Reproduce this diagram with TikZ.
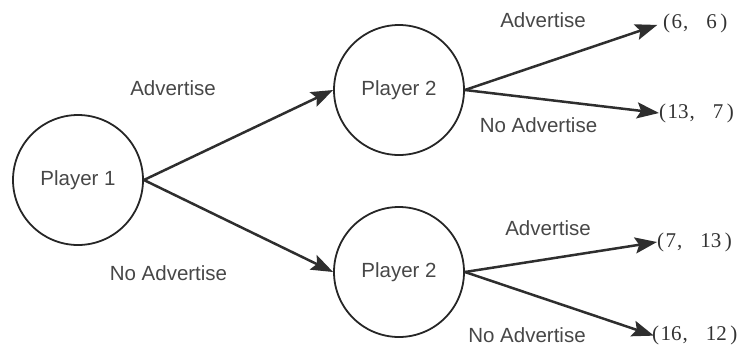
\documentclass[tikz,border=0pt]{standalone}
\usepackage{fontspec}
\setmainfont{Liberation Sans}
\newfontfamily\numfont{Liberation Serif}
\usetikzlibrary{arrows.meta}
% payoff pair, spaced out like full-width brackets and comma
\newcommand{\payoff}[2]{(\hspace{1.5pt}#1\hspace{1pt},\hspace{18pt}#2\hspace{3.5pt})}
\begin{document}
\begin{tikzpicture}[x=1pt, y=-1pt,
  player/.style={circle, draw=black!85, line width=1.8pt, minimum size=130pt,
    inner sep=0pt, font=\fontsize{20.5}{24}\selectfont, text=black!72},
  move/.style={draw=black!82, line width=2.5pt,
    -{Stealth[length=22pt, width=16pt, inset=4pt]}},
  lbl/.style={font=\fontsize{20.5}{24}\selectfont, text=black!72},
  pay/.style={anchor=west, inner sep=0pt,
    font=\numfont\fontsize{21}{24}\selectfont, text=black!80}]
  \useasboundingbox (0,0) rectangle (749,356);

  % decision nodes
  \node[player] (p1)  at (78,180)  {Player 1};
  \node[player] (p2a) at (399,90)  {Player 2};
  \node[player] (p2b) at (399,272) {Player 2};

  % outcomes
  \node[pay] (o1) at (663,23)  {\payoff{6}{6}};
  \node[pay] (o2) at (659,113) {\payoff{13}{7}};
  \node[pay] (o3) at (657,242) {\payoff{7}{13}};
  \node[pay] (o4) at (652,335) {\payoff{16}{12}};

  % moves
  \draw[move] (p1.east) -- (p2a.west);
  \draw[move] (p1.east) -- (p2b.west);
  \draw[move, shorten >=6pt] (p2a.east) -- (o1.west);
  \draw[move] (p2a.east) -- (o2.west);
  \draw[move] (p2b.east) -- (o3.west);
  \draw[move, shorten >=-2pt] (p2b.east) -- (o4.west);

  % move labels
  \node[lbl] (l1) at (173,88)    {Advertise};
  \node[lbl] (l2) at (168.5,273) {No Advertise};
  \node[lbl] (l3) at (543,20)    {Advertise};
  \node[lbl] (l4) at (538.5,125) {No Advertise};
  \node[lbl] (l5) at (548,228)   {Advertise};
  \node[lbl] (l6) at (527,335)   {No Advertise};
\end{tikzpicture}
\end{document}
